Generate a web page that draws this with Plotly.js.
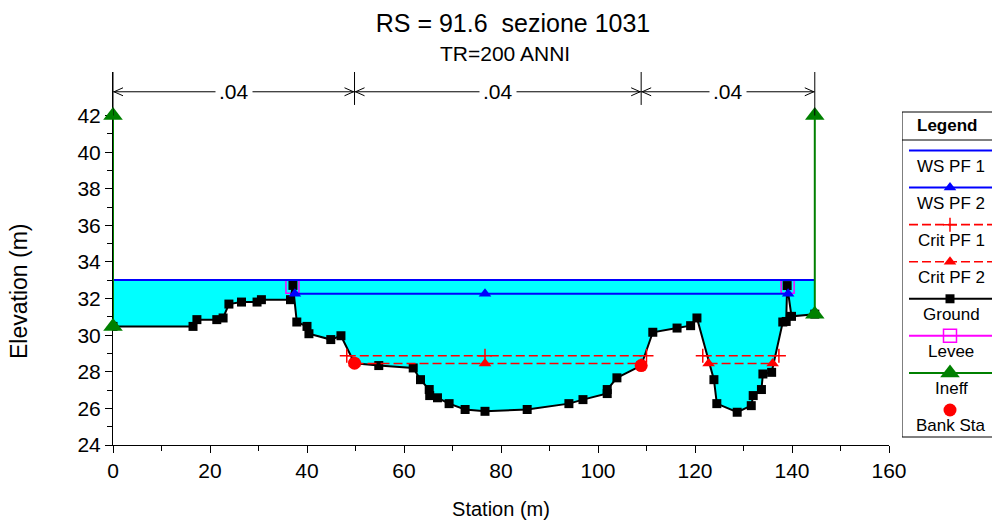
<!DOCTYPE html>
<html><head><meta charset="utf-8">
<script src="https://cdn.plot.ly/plotly-3.0.1.min.js"></script>
<style>html,body{margin:0;padding:0;background:#fff}#chart{width:992px;height:522px}</style>
</head><body><div id="chart"></div>
<script>
// ---------------- data ----------------
const groundX = [0, 16.5, 17.3, 21.4, 22.7, 23.9, 26.5, 29.7, 30.6, 36.6, 37.1, 37.9, 40.0, 40.4, 44.9, 47.0,
  49.8, 54.8, 61.9, 63.4, 65.2, 65.3, 66.9, 69.3, 72.6, 76.7, 85.4, 94.0, 96.9, 101.9, 101.9, 103.9, 108.9,
  111.3, 116.3, 119.1, 120.4, 123.9, 124.5, 128.7, 131.6, 132.0, 133.7, 134.0, 135.8, 138.1, 138.8, 139.0, 139.9, 144.7];
const groundY = [30.48, 30.48, 30.85, 30.85, 30.94, 31.70, 31.81, 31.81, 31.94, 31.94, 32.72, 30.72, 30.48, 30.08, 29.76, 29.97,
  28.47, 28.34, 28.21, 27.57, 27.03, 26.70, 26.58, 26.26, 25.94, 25.84, 25.94, 26.26, 26.48, 26.81, 27.03, 27.67, 28.34,
  30.16, 30.39, 30.52, 30.94, 27.57, 26.26, 25.79, 26.15, 26.70, 27.03, 27.88, 27.97, 30.72, 30.75, 32.71, 31.03, 31.15];
const bankX = [49.8, 108.9];
const bankY = [28.47, 28.34];
const ws1Elev = 33.01;
const ws1X = [0, 144.7];
const ws2Elev = 32.27;
const ws2X = [37.5, 76.7, 139.2];
const crit1Elev = 28.88;
const crit1X = [48.2, 76.7, 110.0, null, 121.6, 137.3];
const crit2Elev = 28.45;
const crit2X = [49.8, 76.7, 108.9, null, 122.8, 136.0];
const leveeX = [37.0, 139.1];
const leveeY = [32.65, 32.65];
const ineffX = [0, 0, null, 144.7, 144.7];
const ineffY = [30.48, 42.0, null, 31.15, 42.0];
const nBounds = [0, 49.8, 108.9, 144.7];
const nValues = ['.04', '.04', '.04'];
const xTicks = [0, 20, 40, 60, 80, 100, 120, 140, 160];
const xMinor = [10, 30, 50, 70, 90, 110, 130, 150];
const yTicks = [24, 26, 28, 30, 32, 34, 36, 38, 40, 42];
const yMinor = [25, 27, 29, 31, 33, 35, 37, 39, 41];
const legendLabels = ['WS PF 1', 'WS PF 2', 'Crit PF 1', 'Crit PF 2', 'Ground', 'Levee', 'Ineff', 'Bank Sta'];
const titleText = 'RS = 91.6\u00a0 sezione 1031';
const subtitleText = 'TR=200 ANNI';

// ---------------- styles ----------------
const FONT = 'Liberation Sans, Arial, sans-serif';
const BLUE = '#0000FF', RED = '#FF0000', BLACK = '#000000', MAG = '#FF00FF', GREEN = '#008000', CYAN = '#00FFFF';
const styles = [
  {color: BLUE, width: 2, dash: 'solid', symbol: null},
  {color: BLUE, width: 2, dash: 'solid', symbol: 'triangle-up', size: 11},
  {color: RED, width: 1.6, dash: '9px,4px', symbol: 'cross-thin-open', size: 10},
  {color: RED, width: 1.6, dash: '9px,4px', symbol: 'triangle-up', size: 11},
  {color: BLACK, width: 2, dash: 'solid', symbol: 'square', size: 9},
  {color: MAG, width: 2, dash: 'solid', symbol: 'square-open', size: 13},
  {color: GREEN, width: 2, dash: 'solid', symbol: 'triangle-up', size: 17},
  {color: RED, width: 0, dash: null, symbol: 'circle', size: 13}
];
function mk(s) {
  return {symbol: s.symbol, size: s.size, color: s.color,
          line: {color: s.color, width: s.symbol && s.symbol.indexOf('open') >= 0 ? 1.5 : 0}};
}
const constY = (arr, v) => arr.map(a => a === null ? null : v);

// ---------------- traces ----------------
const traces = [];
traces.push({x: [groundX[0], groundX[groundX.length - 1]], y: [ws1Elev, ws1Elev], mode: 'lines',
  line: {width: 0, color: CYAN}, hoverinfo: 'skip', showlegend: false});
traces.push({x: groundX, y: groundY, mode: 'lines', fill: 'tonexty', fillcolor: CYAN,
  line: {width: 0, color: CYAN}, hoverinfo: 'skip', showlegend: false});
traces.push({name: 'Levee', x: leveeX, y: leveeY, mode: 'markers', marker: mk(styles[5]), showlegend: false});
traces.push({name: 'Ground', x: groundX, y: groundY, mode: 'lines+markers',
  line: {color: BLACK, width: 2}, marker: mk(styles[4]), showlegend: false});
traces.push({name: 'WS PF 1', x: ws1X, y: constY(ws1X, ws1Elev), mode: 'lines',
  line: {color: BLUE, width: 2}, showlegend: false});
traces.push({name: 'WS PF 2', x: ws2X, y: constY(ws2X, ws2Elev), mode: 'lines+markers',
  line: {color: BLUE, width: 2}, marker: mk(styles[1]), showlegend: false});
traces.push({name: 'Crit PF 1', x: crit1X, y: constY(crit1X, crit1Elev), mode: 'lines+markers',
  line: {color: RED, width: styles[2].width, dash: styles[2].dash}, marker: mk(styles[2]), showlegend: false});
traces.push({name: 'Crit PF 2', x: crit2X, y: constY(crit2X, crit2Elev), mode: 'lines+markers',
  line: {color: RED, width: styles[3].width, dash: styles[3].dash}, marker: mk(styles[3]), showlegend: false});
traces.push({name: 'Ineff', x: ineffX, y: ineffY, mode: 'lines+markers', cliponaxis: false,
  line: {color: GREEN, width: 2}, marker: mk(styles[6]), showlegend: false});
traces.push({name: 'Bank Sta', x: bankX, y: bankY, mode: 'markers', marker: mk(styles[7]), showlegend: false});

// ---------------- geometry ----------------
const W = 992, H = 522, ML = 113, MT = 72, MB = 77;
const plotW = W - ML, plotH = H - MT - MB;
const xEndPx = 889;
const yTop = 44.38, dimY = 43.3, tickLow = 42.58, endLow = 42.0;

// legend (custom, drawn on hidden pixel-mapped axes)
const legX0 = 902, legTop = 112, legBot = 437, legMidX = 950;
const annotations = [];
const shapes = [];
legendLabels.forEach((lab, i) => {
  const s = styles[i];
  const ly = 150.5 + 37.07 * i;
  if (s.width > 0) {
    traces.push({x: [909, 1000], y: [ly, ly], xaxis: 'x2', yaxis: 'y2', mode: 'lines',
      line: {color: s.color, width: s.width, dash: s.dash}, hoverinfo: 'skip', showlegend: false});
  }
  if (s.symbol) {
    traces.push({x: [legMidX], y: [ly], xaxis: 'x2', yaxis: 'y2', mode: 'markers',
      marker: mk(s), hoverinfo: 'skip', showlegend: false, cliponaxis: false});
  }
  annotations.push({text: lab, xref: 'x2', yref: 'y2', x: 951, y: ly + 15.8, showarrow: false,
    xanchor: 'center', yanchor: 'middle', font: {family: FONT, size: 17, color: BLACK}});
});
annotations.push({text: '<b>Legend</b>', xref: 'x2', yref: 'y2', x: 947, y: 125, showarrow: false,
  xanchor: 'center', yanchor: 'middle', font: {family: FONT, size: 17, color: BLACK}});
shapes.push({type: 'rect', xref: 'x2', yref: 'y2', x0: legX0, x1: 1010, y0: legTop, y1: legBot,
  line: {color: BLACK, width: 1}, fillcolor: 'rgba(0,0,0,0)', layer: 'below'});
shapes.push({type: 'line', xref: 'x2', yref: 'y2', x0: legX0, x1: 1010, y0: 140, y1: 140,
  line: {color: BLACK, width: 1}});

// roughness dimension lines
for (let i = 0; i < nValues.length; i++) {
  const a = nBounds[i], b = nBounds[i + 1];
  shapes.push({type: 'line', xref: 'x', yref: 'y', x0: a, x1: b, y0: dimY, y1: dimY, line: {color: BLACK, width: 1}});
  shapes.push({type: 'path', xref: 'x', yref: 'y', xsizemode: 'pixel', ysizemode: 'pixel', xanchor: a, yanchor: dimY,
    path: 'M 10 4 L 1 0 L 10 -4', line: {color: BLACK, width: 1}});
  shapes.push({type: 'path', xref: 'x', yref: 'y', xsizemode: 'pixel', ysizemode: 'pixel', xanchor: b, yanchor: dimY,
    path: 'M -10 4 L -1 0 L -10 -4', line: {color: BLACK, width: 1}});
  annotations.push({text: nValues[i], xref: 'x', yref: 'y', x: (a + b) / 2, y: dimY, showarrow: false,
    xanchor: 'center', yanchor: 'middle', bgcolor: '#FFFFFF', borderpad: 3,
    font: {family: FONT, size: 21, color: BLACK}});
}
nBounds.forEach((b, i) => {
  const isEnd = (i === 0 || i === nBounds.length - 1);
  shapes.push({type: 'line', xref: 'x', yref: 'y', x0: b, x1: b, y0: isEnd ? endLow : tickLow, y1: yTop,
    line: {color: BLACK, width: 1}});
});

// subtitle and y title
annotations.push({text: subtitleText, xref: 'paper', yref: 'paper', x: (505 - ML) / plotW, y: (H - MB - 54) / plotH,
  showarrow: false, xanchor: 'center', yanchor: 'middle', font: {family: FONT, size: 21, color: BLACK}});
annotations.push({text: 'Elevation (m)', xref: 'paper', yref: 'paper', x: (19 - ML) / plotW, y: (H - MB - 292) / plotH,
  showarrow: false, xanchor: 'center', yanchor: 'middle', textangle: -90, font: {family: FONT, size: 23, color: BLACK}});

const axisCommon = {showline: true, linecolor: BLACK, linewidth: 1, ticks: 'outside', ticklen: 7, tickwidth: 1,
  tickcolor: BLACK, showgrid: false, zeroline: false, layer: 'below traces', fixedrange: true,
  tickfont: {family: FONT, size: 21, color: BLACK}};

const layout = {
  width: W, height: H,
  margin: {l: ML, r: 0, t: MT, b: MB, pad: 0},
  paper_bgcolor: '#FFFFFF', plot_bgcolor: '#FFFFFF',
  font: {family: FONT, color: BLACK},
  showlegend: false,
  title: {text: titleText, font: {family: FONT, size: 25, color: BLACK}, xref: 'container', yref: 'container',
    x: 513 / W, xanchor: 'center', y: 1 - 23 / H, yanchor: 'middle'},
  xaxis: Object.assign({}, axisCommon, {
    domain: [0, (xEndPx - ML) / plotW], range: [0, 160], anchor: 'y',
    tickmode: 'array', tickvals: xTicks, ticktext: xTicks.map(String),
    minor: {tickmode: 'array', tickvals: xMinor, ticks: 'outside', ticklen: 5, tickcolor: BLACK, showgrid: false},
    title: {text: 'Station (m)', font: {family: FONT, size: 20, color: BLACK}, standoff: 20}
  }),
  yaxis: Object.assign({}, axisCommon, {
    domain: [0, 1], range: [24, yTop], anchor: 'x',
    tickmode: 'array', tickvals: yTicks, ticktext: yTicks.map(String),
    minor: {tickmode: 'array', tickvals: yMinor, ticks: 'outside', ticklen: 5, tickcolor: BLACK, showgrid: false}
  }),
  xaxis2: {domain: [(legX0 - ML) / plotW, 1], range: [legX0, W], visible: false, fixedrange: true, anchor: 'y2'},
  yaxis2: {domain: [0, 1], range: [H - MB, MT], visible: false, fixedrange: true, anchor: 'x2'},
  shapes: shapes,
  annotations: annotations
};

Plotly.newPlot('chart', traces, layout, {staticPlot: true, displayModeBar: false});
</script>
</body></html>
